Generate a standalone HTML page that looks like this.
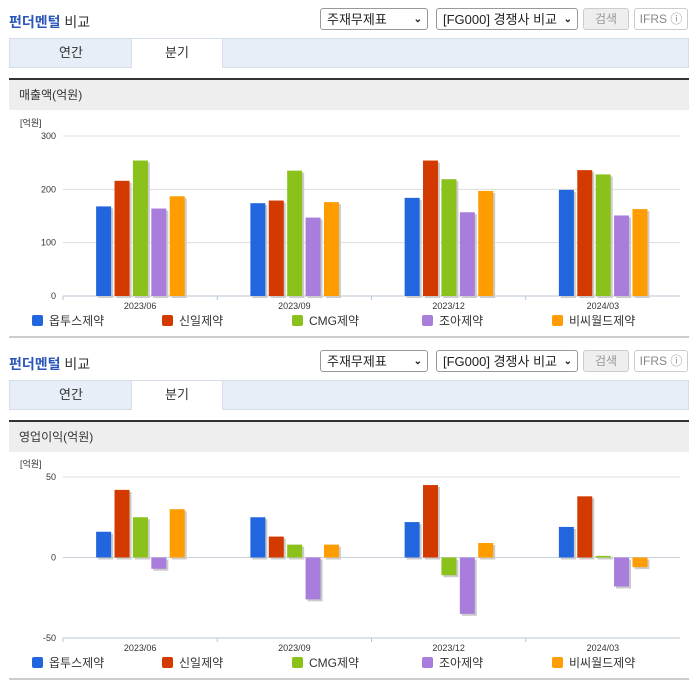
<!DOCTYPE html>
<html><head><meta charset="utf-8">
<style>
body{margin:0;width:696px;height:684px;background:#fff;font-family:"Liberation Sans","Noto Sans CJK KR",sans-serif;position:relative;overflow:hidden}
.abs{position:absolute}
.title{left:9px;font-size:14px;color:#2a56b8;font-weight:bold}
.title span{color:#333;font-weight:normal}
.sel{height:22px;border:1px solid #999;border-radius:3px;font-size:13px;color:#222;line-height:22px;padding-left:6px;box-sizing:border-box;background:#fff}
.sel b{position:absolute;right:5px;top:0;font-size:10px}
.btn{height:22px;border:1px solid #ccc;border-radius:3px;font-size:12px;color:#999;line-height:20px;text-align:center;box-sizing:border-box;background:#eee}
.ifrs{background:#fff;color:#888}
.tabs{left:9px;width:680px;height:30px;background:#e8eef7;border:1px solid #d5dde8;box-sizing:border-box}
.tab{top:0;height:29px;line-height:28px;font-size:13px;color:#333;text-align:center}
.tab.on{background:#fff;border:1px solid #d5dde8;border-bottom:none;height:30px;top:-1px;box-sizing:border-box}
.dark{left:9px;width:680px;height:2px;background:#333}
.gh{left:9px;width:680px;height:30px;background:#eee;font-size:12px;color:#333;line-height:30px;padding-left:10px;box-sizing:border-box}
.bl{left:9px;width:680px;height:2px;background:#ccc}
svg text{font-family:"Liberation Sans","Noto Sans CJK KR",sans-serif}
</style></head><body>
<div id="s1"></div>
<div id="s2"></div>
<script>
const categories=["2023/06","2023/09","2023/12","2024/03"];
const seriesNames=["옵투스제약","신일제약","CMG제약","조아제약","비씨월드제약"];
const colors=["#2166de","#d23a00","#8ac21b","#a87ddb","#ff9d00"];
const revenue=[[168,174,184,199],[216,179,254,236],[254,235,219,228],[164,147,157,151],[187,176,197,163]];
const profit=[[16,25,22,19],[42,13,45,38],[25,8,-11,1],[-7,-26,-35,-18],[30,8,9,-6]];
const revTicks=[0,100,200,300];
const profTicks=[-50,0,50];
const NS="http://www.w3.org/2000/svg";
function mk(tag,attrs,parent){const e=document.createElementNS(NS,tag);for(const k in attrs)e.setAttribute(k,attrs[k]);parent.appendChild(e);return e;}
function section(id,off,label,data,ticks,yTop,yBot,name){
  const s=document.getElementById(id);
  s.innerHTML=`
  <div class="abs title" style="top:${off+12}px">펀더멘털 <span>비교</span></div>
  <div class="abs sel" style="left:320px;top:${off+8}px;width:108px">주재무제표<b>&#8964;</b></div>
  <div class="abs sel" style="left:436px;top:${off+8}px;width:142px">[FG000] 경쟁사 비교<b>&#8964;</b></div>
  <div class="abs btn" style="left:583px;top:${off+8}px;width:46px">검색</div>
  <div class="abs btn ifrs" style="left:634px;top:${off+8}px;width:54px">IFRS ⓘ</div>
  <div class="abs tabs" style="top:${off+38}px">
    <div class="abs tab" style="left:0;width:122px">연간</div>
    <div class="abs tab on" style="left:121px;width:92px">분기</div>
  </div>
  <div class="abs dark" style="top:${off+78}px"></div>
  <div class="abs gh" style="top:${off+80}px">${label}</div>
  <div class="abs bl" style="top:${off+336}px"></div>`;
  const svg=mk("svg",{width:696,height:240,style:`position:absolute;left:0;top:${off+110}px`},s);
  
  
  const x0=63,x1=680,gw=(x1-x0)/categories.length;
  const tmin=ticks[0],tmax=ticks[ticks.length-1];
  const Y=v=>yBot-(v-tmin)/(tmax-tmin)*(yBot-yTop);
  const unit=mk("text",{x:20,y:yTop-10,"font-size":9,fill:"#333"},svg);unit.textContent="[억원]";
  ticks.forEach(t=>{
    mk("line",{x1:x0,x2:x1,y1:Y(t),y2:Y(t),stroke:t===0&&tmin<0?"#c8d0dc":"#ddd"},svg);
    const tx=mk("text",{x:56,y:Y(t)+3,"font-size":9,fill:"#333","text-anchor":"end"},svg);tx.textContent=t;
    
  });
  mk("line",{x1:x0,x2:x1,y1:yBot,y2:yBot,stroke:"#b8c4d6"},svg);
  categories.forEach((c,i)=>{
    const cx=x0+gw*(i+0.5);
    mk("line",{x1:x0+gw*i,x2:x0+gw*i,y1:yBot,y2:yBot+4,stroke:"#b8c4d6"},svg);
    const t=mk("text",{x:cx,y:yBot+13,"font-size":9,fill:"#333","text-anchor":"middle"},svg);t.textContent=c;
    
    data.forEach((ser,k)=>{
      const v=ser[i];const bx=cx-44+k*18.4;
      const y0=Y(Math.max(0,v)),y1=Y(Math.min(0,v));
      mk("rect",{x:bx+2,y:y0+2,width:15,height:Math.max(y1-y0,1),fill:"#ccc"},svg);
      const r=mk("rect",{x:bx,y:y0,width:15,height:Math.max(y1-y0,1),fill:colors[k]},svg);
      
      
    });
  });
  seriesNames.forEach((n,k)=>{
    const lx=32+k*130;
    mk("rect",{x:lx,y:yBot+19,width:11,height:11,rx:2,fill:colors[k]},svg);
    const t=mk("text",{x:lx+17,y:yBot+29,"font-size":12,fill:"#333"},svg);t.textContent=n;
    
    
  });
}
section("s1",0,"매출액(억원)",revenue,revTicks,26,186,"revenue-chart");
section("s2",342,"영업이익(억원)",profit,profTicks,25,186,"operating-profit-chart");
</script>
</body></html>
